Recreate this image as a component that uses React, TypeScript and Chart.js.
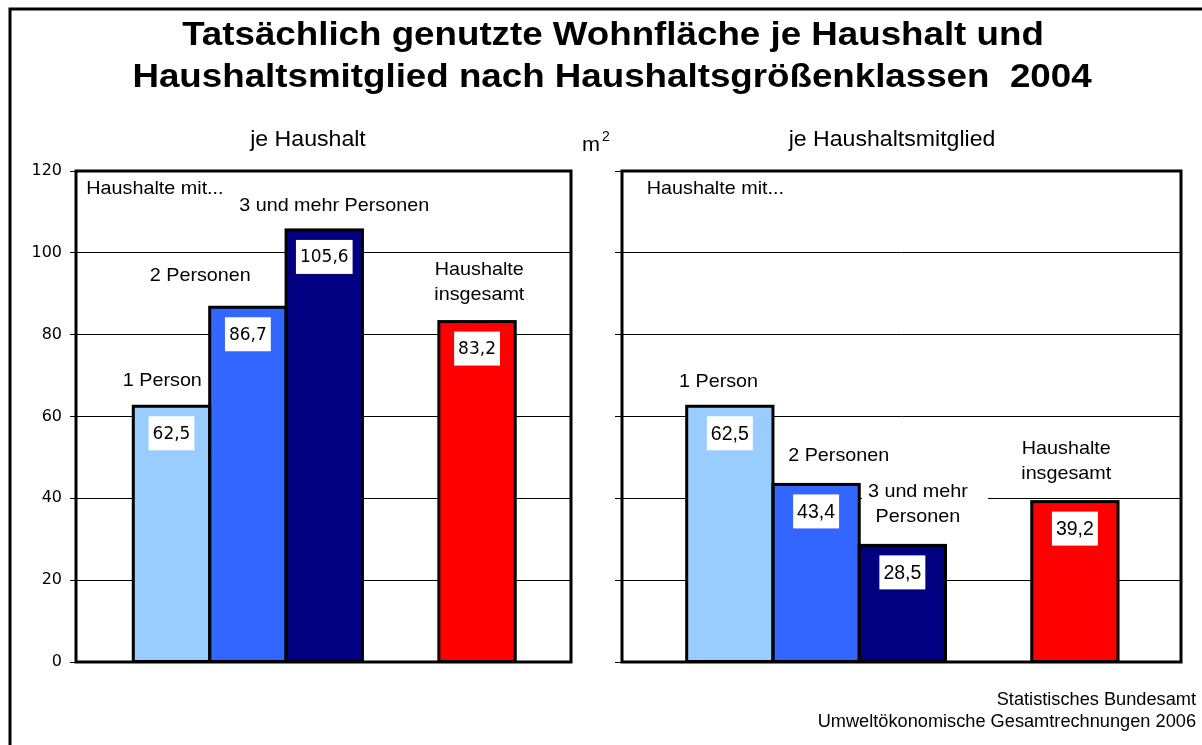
import React, { useEffect, useRef } from 'react';
import { Chart, registerables } from 'chart.js';

Chart.register(...registerables);

// ---------- data ----------
const slots = ['1 Person', '2 Personen', '3 und mehr Personen', '', 'Haushalte insgesamt'];
const perHousehold = [62.5, 86.7, 105.6, null, 83.2];
const perMember = [62.5, 43.4, 28.5, null, 39.2];
const barColors = ['#99CCFF', '#3366FF', '#000080', null, '#FF0000'];
const yTicks = [0, 20, 40, 60, 80, 100, 120];
const titleLines = [
  'Tatsächlich genutzte Wohnfläche je Haushalt und',
  'Haushaltsmitglied nach Haushaltsgrößenklassen  2004',
];
const panelTitles = ['je Haushalt', 'je Haushaltsmitglied'];
const unitLabel = ['m', '2'];
const sourceLines = ['Statistisches Bundesamt', 'Umweltökonomische Gesamtrechnungen 2006'];

// annotation placement (data coordinates of each panel)
const leftNotes = [
  { lines: ['Haushalte mit...'], x: -0.115, y: 115.6, align: 'left' },
  { lines: ['3 und mehr Personen'], x: 3.13, y: 111.4, align: 'center' },
  { lines: ['2 Personen'], x: 1.377, y: 94.3, align: 'center' },
  { lines: ['1 Person'], x: 0.88, y: 68.7, align: 'center' },
  { lines: ['Haushalte', 'insgesamt'], x: 5.03, y: 95.8, align: 'center' },
];
const rightNotes = [
  { lines: ['Haushalte mit...'], x: 0.037, y: 115.6, align: 'left' },
  { lines: ['1 Person'], x: 0.869, y: 68.4, align: 'center' },
  { lines: ['2 Personen'], x: 2.262, y: 50.3, align: 'center' },
  { lines: ['3 und mehr', 'Personen'], x: 3.18, y: 41.5, align: 'center', bg: true },
  { lines: ['Haushalte', 'insgesamt'], x: 4.9, y: 52.0, align: 'center' },
];

const ARIAL = '"Liberation Sans", Arial, sans-serif';
const VERDANA = '"DejaVu Sans", Verdana, sans-serif';
const STRETCH = 1.04;

function fmt(v: number) {
  return v.toFixed(1).replace('.', ',');
}

// draw text with a slight horizontal stretch around its anchor
function drawText(
  ctx: CanvasRenderingContext2D,
  text: string,
  x: number,
  y: number,
  align: CanvasTextAlign,
  sx: number
) {
  ctx.save();
  ctx.translate(x, y);
  ctx.scale(sx, 1);
  ctx.textAlign = align;
  ctx.fillText(text, 0, 0);
  ctx.restore();
}

function makePanelPlugin(notes: any[], valueFont: string) {
  return {
    id: 'panelDecor',
    afterDatasetsDraw(chart: any) {
      const ctx = chart.ctx as CanvasRenderingContext2D;
      const { left, top, right, bottom } = chart.chartArea;
      const meta = chart.getDatasetMeta(0);
      const xs = chart.scales.x;
      const ys = chart.scales.y;
      ctx.save();
      // bar outlines
      ctx.strokeStyle = '#000';
      ctx.lineWidth = 3;
      meta.data.forEach((el: any) => {
        const p = el.getProps(['x', 'y', 'base', 'width'], true);
        ctx.strokeRect(p.x - p.width / 2, p.y, p.width, p.base - p.y);
      });
      // plot border
      ctx.strokeRect(left, top, right - left, bottom - top);

      // value labels
      ctx.font = valueFont;
      ctx.textAlign = 'center';
      ctx.textBaseline = 'middle';
      meta.data.forEach((el: any, i: number) => {
        const p = el.getProps(['x', 'y'], true);
        const raw = chart.data.datasets[0].data[i].y;
        const txt = fmt(raw);
        const w = ctx.measureText(txt).width + 8;
        const h = 34;
        const by = p.y + 10;
        ctx.fillStyle = '#fff';
        ctx.fillRect(p.x - w / 2, by, w, h);
        ctx.fillStyle = '#000';
        ctx.fillText(txt, p.x, by + h / 2 + 1);
      });

      // annotations
      ctx.font = `19px ${ARIAL}`;
      const lh = 25;
      notes.forEach((n) => {
        const px = xs.getPixelForValue(n.x);
        const py = ys.getPixelForValue(n.y);
        if (n.bg) {
          const widths = n.lines.map((l: string) => ctx.measureText(l).width * STRETCH);
          const mw = Math.max(...widths);
          const x0 = px - mw / 2 - 6;
          const x1 = px + mw / 2 + 20;
          ctx.fillStyle = '#fff';
          ctx.fillRect(x0, py - 13, x1 - x0, lh * (n.lines.length - 1) + 26);
        }
        ctx.fillStyle = '#000';
        n.lines.forEach((l: string, k: number) => {
          drawText(ctx, l, px, py + k * lh, n.align, STRETCH);
        });
      });
      ctx.restore();
    },
  };
}

const pageDecor = {
  id: 'pageDecor',
  afterDraw(chart: any) {
    const ctx = chart.ctx as CanvasRenderingContext2D;
    ctx.save();
    // outer frame
    ctx.strokeStyle = '#000';
    ctx.lineWidth = 3;
    ctx.strokeRect(10, 9, 1400, 900);
    ctx.fillStyle = '#000';
    ctx.textBaseline = 'alphabetic';
    // title
    ctx.font = `bold 34px ${ARIAL}`;
    drawText(ctx, titleLines[0], 613, 45, 'center', 1.08);
    drawText(ctx, titleLines[1], 612, 87, 'center', 1.08);
    // panel titles
    ctx.font = `22px ${ARIAL}`;
    drawText(ctx, panelTitles[0], 308, 146, 'center', 1.05);
    drawText(ctx, panelTitles[1], 892, 146, 'center', 1.05);
    // unit
    ctx.font = `20px ${ARIAL}`;
    drawText(ctx, unitLabel[0], 582, 151, 'left', 1.08);
    ctx.font = `14px ${ARIAL}`;
    drawText(ctx, unitLabel[1], 602, 141, 'left', 1.0);
    // source
    ctx.font = `17.5px ${ARIAL}`;
    drawText(ctx, sourceLines[0], 1196, 705, 'right', STRETCH);
    drawText(ctx, sourceLines[1], 1196, 727, 'right', STRETCH);
    ctx.restore();
  },
};

function buildConfig(values: (number | null)[], side: 'left' | 'right') {
  const data: { x: number; y: number }[] = [];
  const colors: string[] = [];
  slots.forEach((_, i) => {
    const v = values[i];
    if (v != null) {
      data.push({ x: i + 1, y: v });
      colors.push(barColors[i] as string);
    }
  });
  const isLeft = side === 'left';
  return {
    type: 'bar' as const,
    data: {
      datasets: [
        {
          data,
          backgroundColor: colors,
          borderWidth: 0,
          barPercentage: 1,
          categoryPercentage: 1,
        },
      ],
    },
    options: {
      responsive: false,
      animation: false as const,
      devicePixelRatio: 1,
      events: [],
      layout: {
        padding: isLeft
          ? { left: 0, top: 171, right: 631, bottom: 83 }
          : { left: 580, top: 171, right: 21, bottom: 83 },
      },
      plugins: {
        legend: { display: false },
        tooltip: { enabled: false },
        title: { display: false },
      },
      scales: {
        x: {
          type: 'linear' as const,
          display: false,
          min: -0.25,
          max: 6.23,
          offset: false,
          ticks: { stepSize: 1, includeBounds: false },
          grid: { display: false },
        },
        y: {
          min: 0,
          max: 120,
          afterFit(scale: any) {
            scale.width = isLeft ? 76 : 42;
          },
          afterBuildTicks(scale: any) {
            scale.ticks = yTicks.map((v) => ({ value: v }));
          },
          ticks: {
            display: true,
            padding: isLeft ? 8 : 0,
            color: '#000',
            font: { family: VERDANA, size: 16 },
            callback: (v: any) => (isLeft ? String(v) : ''),
          },
          grid: {
            color: '#000',
            lineWidth: 1,
            tickLength: isLeft ? 6 : 7,
            tickColor: '#000',
            drawTicks: true,
          },
          border: { display: false },
        },
      },
    },
    plugins: isLeft
      ? [makePanelPlugin(leftNotes, `17px ${VERDANA}`), pageDecor]
      : [makePanelPlugin(rightNotes, `19.5px ${ARIAL}`)],
  };
}

export default function App() {
  const leftRef = useRef<HTMLCanvasElement>(null);
  const rightRef = useRef<HTMLCanvasElement>(null);
  useEffect(() => {
    const c1 = new Chart(leftRef.current as HTMLCanvasElement, buildConfig(perHousehold, 'left') as any);
    const c2 = new Chart(rightRef.current as HTMLCanvasElement, buildConfig(perMember, 'right') as any);
    return () => {
      c1.destroy();
      c2.destroy();
    };
  }, []);
  return (
    <div style={{ position: 'fixed', left: 0, top: 0, width: 1202, height: 745, background: '#fff' }}>
      <canvas ref={leftRef} width={1202} height={745} style={{ position: 'absolute', left: 0, top: 0 }} />
      <canvas ref={rightRef} width={1202} height={745} style={{ position: 'absolute', left: 0, top: 0 }} />
    </div>
  );
}
